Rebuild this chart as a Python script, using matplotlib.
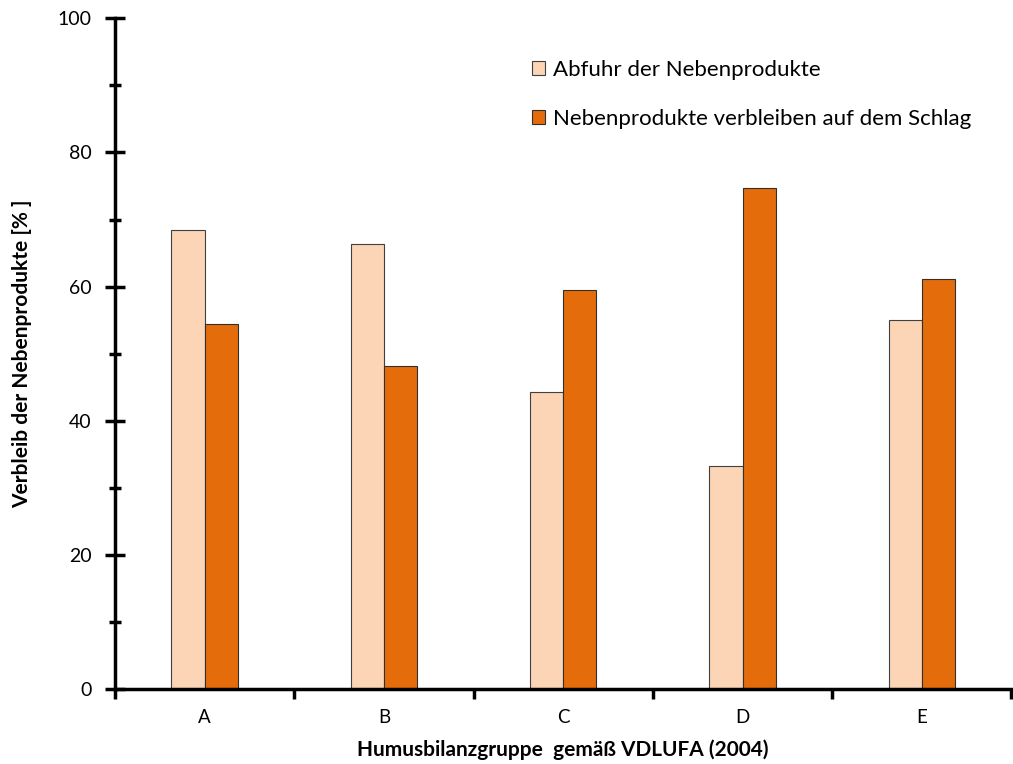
import matplotlib.pyplot as plt
import numpy as np
from matplotlib.ticker import MultipleLocator

plt.rcParams['font.family'] = ['Lato', 'DejaVu Sans']

gruppen = ['A', 'B', 'C', 'D', 'E']
abfuhr = [68.5, 66.4, 44.3, 33.2, 55.1]
verbleib = [54.5, 48.1, 59.5, 74.7, 61.2]
serien = ['Abfuhr der Nebenprodukte', 'Nebenprodukte verbleiben auf dem Schlag']

fig = plt.figure(figsize=(10.13, 7.64), dpi=100)
ax = fig.add_axes([0.1135, 0.098, 0.885, 0.878])

x = np.arange(len(gruppen))
w = 0.185
ax.bar(x - w / 2, abfuhr, width=w, color='#fbd5b5', edgecolor='#404040',
       linewidth=0.8, label=serien[0])
ax.bar(x + w / 2, verbleib, width=w, color='#e46c0a', edgecolor='#303030',
       linewidth=0.8, label=serien[1])

ax.set_xlim(-0.5, len(gruppen) - 0.5)
ax.set_ylim(0, 100)

# achsen
for s in ['top', 'right']:
    ax.spines[s].set_visible(False)
for s in ['left', 'bottom']:
    ax.spines[s].set_linewidth(2.5)
    ax.spines[s].set_color('black')

ax.yaxis.set_major_locator(MultipleLocator(20))
ax.yaxis.set_minor_locator(MultipleLocator(10))
ax.tick_params(axis='y', which='major', direction='inout', length=14, width=2.5,
               labelsize=14, pad=10)
ax.tick_params(axis='y', which='minor', direction='inout', length=9, width=2.5)

ax.set_xticks(x)
ax.set_xticklabels(gruppen)
ax.set_xticks(np.arange(-0.5, len(gruppen)), minor=True)
ax.tick_params(axis='x', which='major', length=0, labelsize=13.5, pad=14)
ax.tick_params(axis='x', which='minor', direction='out', length=7, width=2.5)

ax.set_ylabel('Verbleib der Nebenprodukte [% ]', fontsize=15, fontweight='bold',
              labelpad=18)
ax.set_xlabel('Humusbilanzgruppe  gemäß VDLUFA (2004)', fontsize=15,
              fontweight='bold', labelpad=10)

ax.legend(loc='upper left', bbox_to_anchor=(0.443, 0.968), frameon=False,
          fontsize=16, handlelength=0.6, handleheight=0.6, handletextpad=0.35,
          labelspacing=1.3)

fig.savefig('out.png', dpi=100)
